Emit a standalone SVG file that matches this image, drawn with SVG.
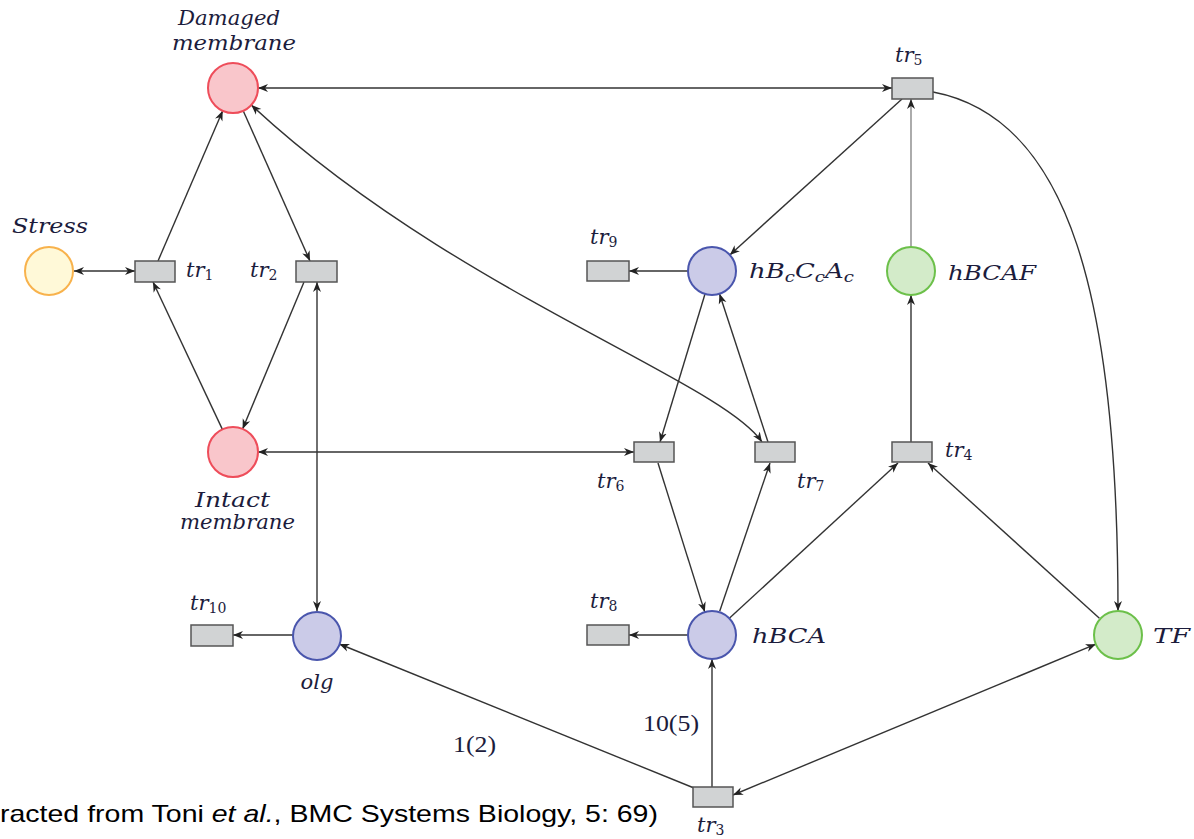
<svg xmlns="http://www.w3.org/2000/svg" width="1194" height="839" viewBox="0 0 1194 839">
<style>
.lbl{font-family:"DejaVu Serif","Liberation Serif",serif;font-style:italic;font-size:20px;fill:#1c1c3c}
.tr{font-family:"DejaVu Serif","Liberation Serif",serif;font-style:italic;font-size:21px;fill:#1c1c3c}
.sub{font-style:normal;font-size:14px}
.num{font-family:"Liberation Serif","DejaVu Serif",serif;font-size:24px;fill:#1c1c3c}
.cap{font-family:"Liberation Sans",Arial,sans-serif;font-size:24px;fill:#000}
.rect{fill:#d1d3d4;stroke:#555;stroke-width:1.5}
.red{fill:#f9c6cb;stroke:#ee4d5a;stroke-width:2}
.ora{fill:#fff9d8;stroke:#f8b24c;stroke-width:2}
.blu{fill:#cbcbe8;stroke:#4a56ad;stroke-width:2}
.grn{fill:#d3ebc9;stroke:#6cc04a;stroke-width:2}
.e{fill:none;stroke:#333;stroke-width:1.4}
.a{marker-end:url(#ah)}
.b{marker-start:url(#ah);marker-end:url(#ah)}
</style>
<defs>
<marker id="ah" viewBox="0 0 10 10" refX="10" refY="5" markerWidth="10" markerHeight="10" markerUnits="userSpaceOnUse" orient="auto-start-reverse">
<path d="M0,1 L10,5 L0,9 L3,5 z" fill="#222"/>
</marker>
</defs>
<rect width="1194" height="839" fill="#fff"/>
<g id="connectors">
<line class="e b" x1="74" y1="271" x2="135" y2="271"/>
<line class="e a" x1="158" y1="261" x2="222.7" y2="110.8"/>
<line class="e a" x1="222.4" y1="429.4" x2="153" y2="282"/>
<line class="e a" x1="243.2" y1="110.8" x2="310" y2="261"/>
<line class="e a" x1="304" y1="282" x2="242.6" y2="428.9"/>
<line class="e b" x1="317" y1="282" x2="317" y2="611"/>
<line class="e b" x1="258" y1="88" x2="892" y2="88"/>
<line class="e a" x1="902" y1="99" x2="729.8" y2="254.9"/>
<line class="e a" x1="911" y1="247" x2="911" y2="99" style="stroke:#888"/>
<path class="e a" d="M933,92 C1070,118 1118,300 1118,611"/>
<line class="e a" x1="688" y1="271" x2="629" y2="271"/>
<line class="e a" x1="705" y1="294" x2="660" y2="442"/>
<line class="e a" x1="768" y1="442" x2="719.5" y2="293.8"/>
<path class="e b" d="M251.3,105 C450,290 720,380 762,442"/>
<line class="e b" x1="258" y1="452" x2="634" y2="452"/>
<line class="e a" x1="658" y1="463" x2="704.8" y2="612.1"/>
<line class="e a" x1="719.7" y1="611.3" x2="770" y2="463"/>
<line class="e a" x1="729.6" y1="618" x2="898" y2="463"/>
<line class="e a" x1="911" y1="442" x2="911" y2="295"/>
<line class="e a" x1="1099.4" y1="618.3" x2="928" y2="463"/>
<line class="e a" x1="688" y1="635" x2="629" y2="635"/>
<line class="e a" x1="293" y1="635" x2="233" y2="635"/>
<line class="e a" x1="712" y1="787" x2="712" y2="659"/>
<line class="e a" x1="694" y1="788" x2="339.3" y2="644"/>
<line class="e b" x1="1095.8" y1="644.2" x2="733" y2="795"/>
<text class="num" x="643" y="731" textLength="56" lengthAdjust="spacingAndGlyphs">10(5)</text>
<text class="num" x="453" y="752" textLength="43" lengthAdjust="spacingAndGlyphs">1(2)</text>
</g>
<g id="damaged">
<circle class="red" cx="233" cy="88" r="25"/>
<text class="lbl" x="229" y="25" text-anchor="middle" textLength="102" lengthAdjust="spacingAndGlyphs">Damaged</text>
<text class="lbl" x="234" y="50" text-anchor="middle" textLength="124" lengthAdjust="spacingAndGlyphs">membrane</text>
</g>
<g id="stress">
<circle class="ora" cx="49" cy="271" r="24"/>
<text class="lbl" x="12" y="233" textLength="76" lengthAdjust="spacingAndGlyphs">Stress</text>
</g>
<g id="intact">
<circle class="red" cx="233" cy="452" r="25"/>
<text class="lbl" x="195" y="507" textLength="75" lengthAdjust="spacingAndGlyphs">Intact</text>
<text class="lbl" x="180" y="529" textLength="115" lengthAdjust="spacingAndGlyphs">membrane</text>
</g>
<g id="olg">
<circle class="blu" cx="317" cy="636" r="24"/>
<text class="lbl" x="317" y="689" text-anchor="middle" textLength="33" lengthAdjust="spacingAndGlyphs">olg</text>
</g>
<g id="hBcCcAc">
<circle class="blu" cx="712" cy="271" r="24"/>
<text class="lbl" x="749" y="278" textLength="105" lengthAdjust="spacingAndGlyphs">hB<tspan font-size="14" dy="4">c</tspan><tspan dy="-4">C</tspan><tspan font-size="14" dy="4">c</tspan><tspan dy="-4">A</tspan><tspan font-size="14" dy="4">c</tspan></text>
</g>
<g id="hBCAF">
<circle class="grn" cx="911" cy="271" r="24"/>
<text class="lbl" x="948" y="280" textLength="88" lengthAdjust="spacingAndGlyphs">hBCAF</text>
</g>
<g id="hBCA">
<circle class="blu" cx="712" cy="635" r="24"/>
<text class="lbl" x="752" y="643" textLength="74" lengthAdjust="spacingAndGlyphs">hBCA</text>
</g>
<g id="TF">
<circle class="grn" cx="1118" cy="635" r="24"/>
<text class="lbl" x="1153" y="643" textLength="37" lengthAdjust="spacingAndGlyphs">TF</text>
</g>
<g id="tr1">
<rect class="rect" x="135" y="261" width="40" height="21"/>
<text class="tr" x="186" y="277">tr<tspan class="sub" dy="3">1</tspan></text>
</g>
<g id="tr2">
<rect class="rect" x="296" y="261" width="41" height="21"/>
<text class="tr" x="250" y="277">tr<tspan class="sub" dy="3">2</tspan></text>
</g>
<g id="tr3">
<rect class="rect" x="693" y="787" width="40" height="20"/>
<text class="tr" x="697" y="832">tr<tspan class="sub" dy="3">3</tspan></text>
</g>
<g id="tr4">
<rect class="rect" x="892" y="442" width="40" height="20"/>
<text class="tr" x="945" y="457">tr<tspan class="sub" dy="3">4</tspan></text>
</g>
<g id="tr5">
<rect class="rect" x="892" y="78" width="41" height="21"/>
<text class="tr" x="895" y="62">tr<tspan class="sub" dy="3">5</tspan></text>
</g>
<g id="tr6">
<rect class="rect" x="634" y="442" width="40" height="20"/>
<text class="tr" x="597" y="488">tr<tspan class="sub" dy="3">6</tspan></text>
</g>
<g id="tr7">
<rect class="rect" x="755" y="442" width="40" height="20"/>
<text class="tr" x="797" y="488">tr<tspan class="sub" dy="3">7</tspan></text>
</g>
<g id="tr8">
<rect class="rect" x="587" y="625" width="42" height="20"/>
<text class="tr" x="590" y="608">tr<tspan class="sub" dy="3">8</tspan></text>
</g>
<g id="tr9">
<rect class="rect" x="587" y="261" width="42" height="20"/>
<text class="tr" x="590" y="244">tr<tspan class="sub" dy="3">9</tspan></text>
</g>
<g id="tr10">
<rect class="rect" x="191" y="625" width="42" height="21"/>
<text class="tr" x="190" y="610">tr<tspan class="sub" dy="3">10</tspan></text>
</g>
<text class="cap" x="0" y="822" textLength="658" lengthAdjust="spacingAndGlyphs">racted from Toni <tspan font-style="italic">et al.</tspan>, BMC Systems Biology, 5: 69)</text>
</svg>
